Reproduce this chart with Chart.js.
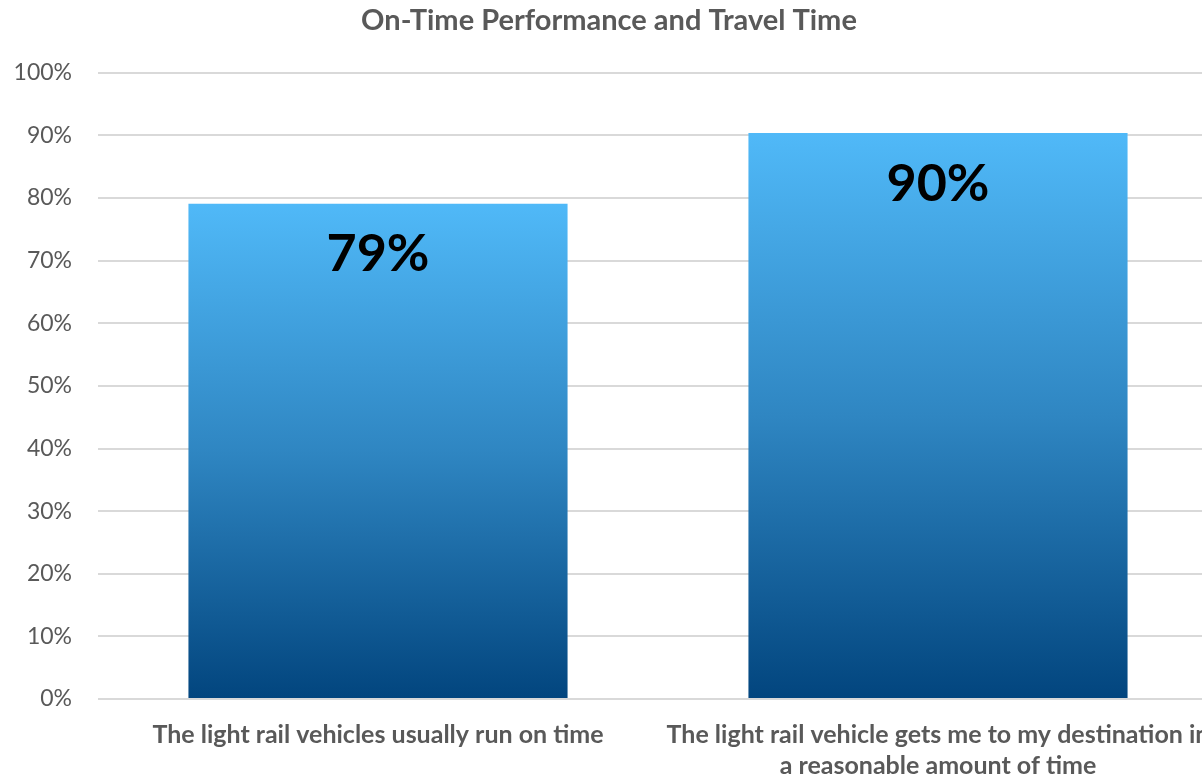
<!DOCTYPE html>
<html>
<head>
<meta charset="utf-8">
<script src="https://cdn.jsdelivr.net/npm/chart.js@4"></script>
<style>
  html, body { margin:0; padding:0; background:#fff; overflow:hidden; }
  #wrap { width:1218px; height:778px; }
</style>
</head>
<body>
<div id="wrap"><canvas id="chart" width="1218" height="778"></canvas></div>
<script>
// Datos del gráfico
const categories = [
  'The light rail vehicles usually run on time',
  ['The light rail vehicle gets me to my destination in', 'a reasonable amount of time']
];
const values = [79.1, 90.4];
const valueLabels = ['79%', '90%'];
const yTicks = [0, 10, 20, 30, 40, 50, 60, 70, 80, 90, 100];

const FONT = 'Lato, "Open Sans", sans-serif';
const GRAY = '#595959';

// degradado por barra: claro arriba, oscuro abajo
function barGradient(c){
  const chart = c.chart;
  if(!chart.chartArea || c.parsed == null) return '#2f86c2';
  const y = chart.scales.y;
  const top = y.getPixelForValue(c.parsed.y);
  const bottom = y.getPixelForValue(0);
  const g = chart.ctx.createLinearGradient(0, top, 0, bottom);
  g.addColorStop(0, '#50b9f8');
  g.addColorStop(0.5, '#2f86c2');
  g.addColorStop(1, '#02457e');
  return g;
}

// etiquetas de valor dentro de la barra
const valueLabelPlugin = {
  id: 'valueLabels',
  afterDatasetsDraw(chart){
    const ctx = chart.ctx;
    const meta = chart.getDatasetMeta(0);
    ctx.save();
    ctx.font = 'bold 52px ' + FONT;
    ctx.fillStyle = '#000';
    ctx.textAlign = 'center';
    ctx.textBaseline = 'middle';
    meta.data.forEach((bar, i) => {
      ctx.fillText(valueLabels[i], bar.x, bar.y + 51);
    });
    ctx.restore();
  }
};

new Chart(document.getElementById('chart'), {
  type: 'bar',
  data: {
    labels: categories,
    datasets: [{
      data: values,
      backgroundColor: barGradient,
      borderWidth: 0,
      categoryPercentage: 1,
      barPercentage: 0.677
    }]
  },
  options: {
    responsive: false,
    animation: false,
    layout: { padding: 0 },
    plugins: {
      legend: { display: false },
      tooltip: { enabled: false },
      title: {
        display: true,
        text: 'On-Time Performance and Travel Time',
        color: GRAY,
        font: { family: FONT, size: 29, weight: 'bold', lineHeight: 1.2 },
        padding: { top: 3, bottom: 35 }
      }
    },
    scales: {
      x: {
        grid: { display: false, drawTicks: false },
        border: { display: false },
        ticks: {
          color: GRAY,
          font: { family: FONT, size: 25, weight: 'bold', lineHeight: 1.25 },
          padding: 20,
          maxRotation: 0,
          minRotation: 0,
          autoSkip: false
        },
        // la etiqueta larga se sale por la derecha, como en el original
        afterFit(scale){ scale.height = 79; scale.paddingLeft = 0; scale.paddingRight = 0; }
      },
      y: {
        min: 0,
        max: 100,
        afterBuildTicks(scale){ scale.ticks = yTicks.map(v => ({ value: v })); },
        grid: { color: '#d9d9d9', lineWidth: 2, drawTicks: false },
        border: { display: false },
        ticks: {
          color: GRAY,
          font: { family: FONT, size: 23 },
          padding: 26,
          callback: v => v + '%'
        },
        afterFit(scale){ scale.width = 98; }
      }
    }
  },
  plugins: [valueLabelPlugin]
});
</script>
</body>
</html>
